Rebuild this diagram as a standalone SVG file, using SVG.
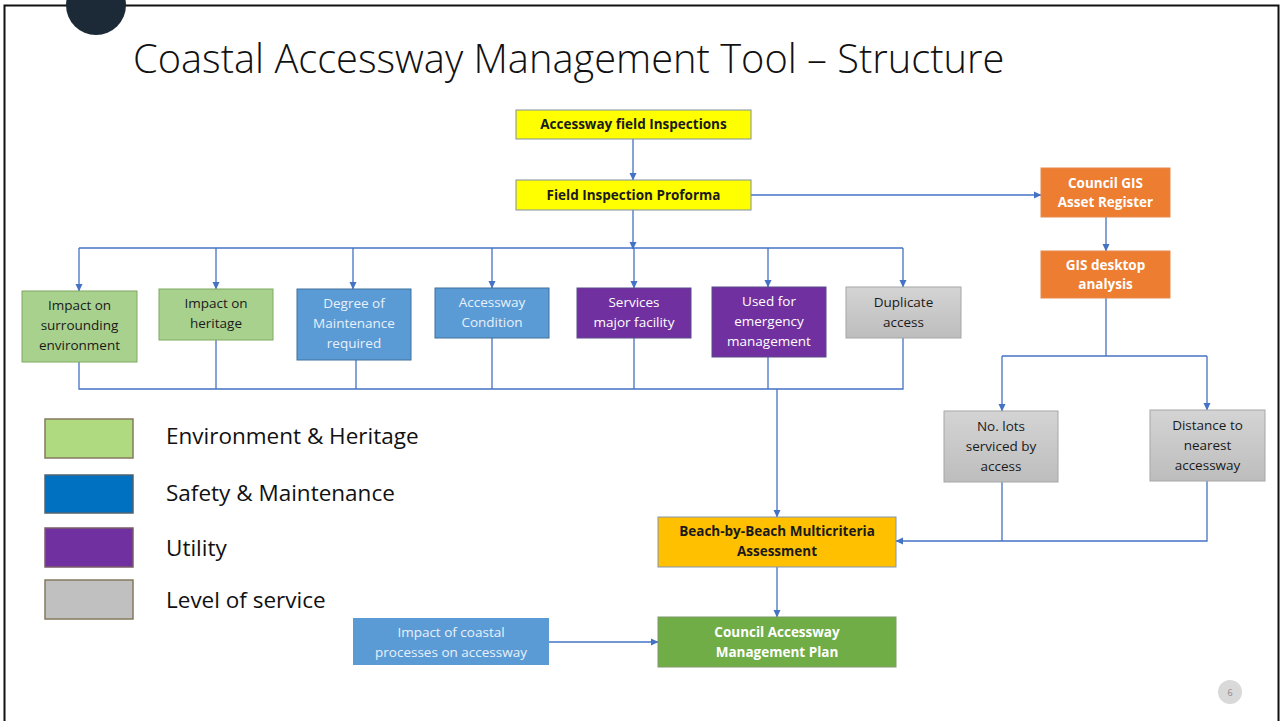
<svg xmlns="http://www.w3.org/2000/svg" width="1281" height="721" viewBox="0 0 1281 721">
<defs>
<marker id="ah" markerWidth="8" markerHeight="8" refX="7" refY="4" orient="auto" markerUnits="userSpaceOnUse">
<path d="M0,0.5 L7.5,4 L0,7.5 Z" fill="#4472c4"/>
</marker>
<linearGradient id="gray" x1="0" y1="0" x2="0" y2="1">
<stop offset="0" stop-color="#d4d4d4"/><stop offset="1" stop-color="#bdbdbd"/>
</linearGradient>
</defs>
<style>
.t{font-family:"Open Sans","Noto Sans",sans-serif;text-anchor:middle;font-size:13.5px}
.b{font-weight:bold;font-size:13.5px}
.dk{fill:#1a1a1a}
.wt{fill:#ffffff}
.lt{fill:#e8f0fa}
.cn{fill:none;stroke:#4472c4;stroke-width:1.3}
.ar{marker-end:url(#ah)}
.leg{font-family:"Open Sans","Noto Sans",sans-serif;font-size:22.5px;fill:#111}
</style>
<rect x="0" y="0" width="1281" height="721" fill="#ffffff"/>
<rect x="4.5" y="5.5" width="1274" height="720" fill="none" stroke="#111" stroke-width="2"/>
<circle cx="96" cy="5" r="30" fill="#1b2a36"/>
<text x="133" y="73" font-family="Open Sans,Noto Sans,sans-serif" font-weight="300" font-size="39.8" fill="#111">Coastal Accessway Management Tool – Structure</text>

<g id="connectors">
<line class="cn ar" x1="633" y1="139" x2="633" y2="180"/>
<line class="cn ar" x1="751" y1="195" x2="1041" y2="195"/>
<line class="cn ar" x1="633" y1="210" x2="633" y2="249"/>
<line class="cn" x1="79" y1="248" x2="903" y2="248"/>
<line class="cn ar" x1="79" y1="248" x2="79" y2="291"/>
<line class="cn ar" x1="216" y1="248" x2="216" y2="289"/>
<line class="cn ar" x1="353" y1="248" x2="353" y2="289"/>
<line class="cn ar" x1="492" y1="248" x2="492" y2="288"/>
<line class="cn ar" x1="634" y1="248" x2="634" y2="288"/>
<line class="cn ar" x1="768" y1="248" x2="768" y2="287"/>
<line class="cn ar" x1="903" y1="248" x2="903" y2="287"/>
<polyline class="cn" points="79,362 79,389 903,389 903,338"/>
<line class="cn" x1="216" y1="340" x2="216" y2="389"/>
<line class="cn" x1="356" y1="360" x2="356" y2="389"/>
<line class="cn" x1="492" y1="338" x2="492" y2="389"/>
<line class="cn" x1="634" y1="338" x2="634" y2="389"/>
<line class="cn" x1="768" y1="357" x2="768" y2="389"/>
<line class="cn ar" x1="777" y1="389" x2="777" y2="517"/>
<line class="cn ar" x1="1106" y1="217" x2="1106" y2="251"/>
<line class="cn" x1="1106" y1="298" x2="1106" y2="356"/>
<line class="cn" x1="1002" y1="356" x2="1207" y2="356"/>
<line class="cn ar" x1="1002" y1="356" x2="1002" y2="411"/>
<line class="cn ar" x1="1207" y1="356" x2="1207" y2="410"/>
<line class="cn" x1="1002" y1="482" x2="1002" y2="541"/>
<polyline class="cn ar" points="1207,481 1207,541 896,541"/>
<line class="cn ar" x1="777" y1="567" x2="777" y2="617"/>
<line class="cn ar" x1="549" y1="642" x2="658" y2="642"/>
</g>

<g id="n-field-inspections">
<rect x="516" y="110" width="235" height="29" fill="#ffff00" stroke="#7f8fa6"/>
<text class="t b dk" x="633.5" y="129">Accessway field Inspections</text>
</g>
<g id="n-proforma">
<rect x="516" y="180" width="235" height="30" fill="#ffff00" stroke="#7f8fa6"/>
<text class="t b dk" x="633.5" y="200">Field Inspection Proforma</text>
</g>
<g id="n-gis-register">
<rect x="1041" y="168" width="129" height="49" fill="#ed7d31" stroke="#e58a4f"/>
<text class="t b wt" x="1105.5" y="188">Council GIS</text>
<text class="t b wt" x="1105.5" y="207">Asset Register</text>
</g>
<g id="n-gis-desktop">
<rect x="1041" y="251" width="129" height="47" fill="#ed7d31" stroke="#e58a4f"/>
<text class="t b wt" x="1105.5" y="270">GIS desktop</text>
<text class="t b wt" x="1105.5" y="289">analysis</text>
</g>
<g id="n-env">
<rect x="22" y="291" width="115" height="71" fill="#a9d18e" stroke="#7fa862"/>
<text class="t dk" x="79.5" y="310">Impact on</text>
<text class="t dk" x="79.5" y="330">surrounding</text>
<text class="t dk" x="79.5" y="350">environment</text>
</g>
<g id="n-heritage">
<rect x="159" y="289" width="114" height="51" fill="#a9d18e" stroke="#7fa862"/>
<text class="t dk" x="216" y="308">Impact on</text>
<text class="t dk" x="216" y="328">heritage</text>
</g>
<g id="n-maintenance">
<rect x="297" y="289" width="114" height="71" fill="#5b9bd5" stroke="#41719c"/>
<text class="t lt" x="354" y="308">Degree of</text>
<text class="t lt" x="354" y="328">Maintenance</text>
<text class="t lt" x="354" y="348">required</text>
</g>
<g id="n-condition">
<rect x="435" y="288" width="114" height="50" fill="#5b9bd5" stroke="#41719c"/>
<text class="t lt" x="492" y="307">Accessway</text>
<text class="t lt" x="492" y="327">Condition</text>
</g>
<g id="n-services">
<rect x="577" y="288" width="114" height="50" fill="#7030a0" stroke="#5a4a8a"/>
<text class="t wt" x="634" y="307">Services</text>
<text class="t wt" x="634" y="327">major facility</text>
</g>
<g id="n-emergency">
<rect x="712" y="287" width="114" height="70" fill="#7030a0" stroke="#5a4a8a"/>
<text class="t wt" x="769" y="306">Used for</text>
<text class="t wt" x="769" y="326">emergency</text>
<text class="t wt" x="769" y="346">management</text>
</g>
<g id="n-duplicate">
<rect x="846" y="287" width="115" height="51" fill="url(#gray)" stroke="#a6a6a6"/>
<text class="t dk" x="903.5" y="307">Duplicate</text>
<text class="t dk" x="903.5" y="327">access</text>
</g>
<g id="n-lots">
<rect x="944" y="411" width="114" height="71" fill="url(#gray)" stroke="#a6a6a6"/>
<text class="t dk" x="1001" y="431">No. lots</text>
<text class="t dk" x="1001" y="451">serviced by</text>
<text class="t dk" x="1001" y="471">access</text>
</g>
<g id="n-distance">
<rect x="1150" y="410" width="115" height="71" fill="url(#gray)" stroke="#a6a6a6"/>
<text class="t dk" x="1207.5" y="430">Distance to</text>
<text class="t dk" x="1207.5" y="450">nearest</text>
<text class="t dk" x="1207.5" y="470">accessway</text>
</g>
<g id="n-beach">
<rect x="658" y="517" width="238" height="50" fill="#ffc000" stroke="#8496b0"/>
<text class="t b dk" x="777" y="536">Beach-by-Beach Multicriteria</text>
<text class="t b dk" x="777" y="556">Assessment</text>
</g>
<g id="n-plan">
<rect x="658" y="617" width="238" height="50" fill="#70ad47" stroke="#7f9a6a"/>
<text class="t b wt" x="777" y="637">Council Accessway</text>
<text class="t b wt" x="777" y="657">Management Plan</text>
</g>
<g id="n-coastal">
<rect x="353" y="618" width="196" height="47" fill="#5b9bd5"/>
<text class="t lt" x="451" y="637">Impact of coastal</text>
<text class="t lt" x="451" y="657">processes on accessway</text>
</g>

<g id="legend">
<rect x="45" y="419" width="88" height="39" fill="#b0da80" stroke="#857a5e" stroke-width="1.5"/>
<rect x="45" y="475" width="88" height="38" fill="#0070c0" stroke="#4f6470" stroke-width="1.5"/>
<rect x="45" y="528" width="88" height="39" fill="#7030a0" stroke="#7a5c6a" stroke-width="1.5"/>
<rect x="45" y="580" width="88" height="39" fill="#c0c0c0" stroke="#857a5e" stroke-width="1.5"/>
<text class="leg" x="166" y="444">Environment &amp; Heritage</text>
<text class="leg" x="166" y="501">Safety &amp; Maintenance</text>
<text class="leg" x="166" y="556">Utility</text>
<text class="leg" x="166" y="608">Level of service</text>
</g>
<g id="page-number">
<circle cx="1230" cy="692" r="12" fill="#d9d9d9"/>
<text x="1230" y="695.5" text-anchor="middle" font-family="Open Sans,sans-serif" font-size="9" fill="#8a8a8a">6</text>
</g>
</svg>
